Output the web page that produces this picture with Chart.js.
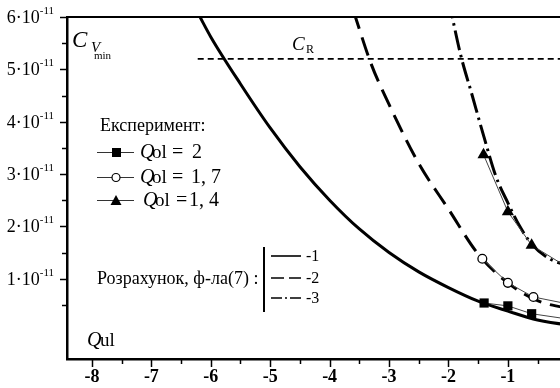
<!DOCTYPE html>
<html>
<head>
<meta charset="utf-8">
<script src="https://cdn.jsdelivr.net/npm/chart.js@4/dist/chart.umd.min.js"></script>
<style>
  html, body { margin: 0; padding: 0; background: #fff; }
  #wrap { width: 560px; height: 388px; overflow: hidden; position: relative; }
  canvas { display: block; }
</style>
</head>
<body>
<div id="wrap"><canvas id="chart" width="620" height="388"></canvas></div>
<script>
// Значення C в одиницях 1e-11, Q - по осі x
const xTicks = [-8, -7, -6, -5, -4, -3, -2, -1, 0];
const yTicks = [1, 2, 3, 4, 5, 6];

// Розрахунок, ф-ла (7)
const calc1Q = [-6.3, -6.2, -6, -5.5, -5, -4.5, -4, -3.5, -3, -2.5, -2, -1.5, -1, -0.5, 0, 0.5];
const calc1C = [6.25, 6.04, 5.62, 4.72, 3.88, 3.14, 2.5, 1.95, 1.5, 1.13, 0.83, 0.57, 0.38, 0.21, 0.12, 0.08];
const calc2Q = [-3.6, -3.3, -3, -2.5, -2, -1.5, -1, -0.5, 0, 0.5];
const calc2C = [6.12, 5.1, 4.33, 3.2, 2.33, 1.47, 0.92, 0.58, 0.44, 0.38];
const calc3Q = [-2.0, -1.8, -1.6, -1.4, -1.2, -1.0, -0.8, -0.6, -0.3, 0, 0.5];
const calc3C = [6.35, 5.3, 4.5, 3.7, 2.95, 2.45, 2.0, 1.66, 1.38, 1.26, 1.12];

// Експеримент
const exp2Q = [-1.4, -1.0, -0.6, 0];
const exp2C = [0.535, 0.48, 0.33, 0.23];
const exp17Q = [-1.43, -1.0, -0.57, 0];
const exp17C = [1.38, 0.92, 0.65, 0.52];
const exp14Q = [-1.41, -1.0, -0.6, 0];
const exp14C = [3.37, 2.28, 1.64, 1.22];

// C_R
const crQ = [-6.22, 0.5];
const crC = [5.2, 5.2];

const serif = '"Liberation Serif", "Times New Roman", serif';

function pts(xs, ys) {
    return xs.map((x, i) => ({ x: x, y: ys[i] }));
}

// Підписи, рамка, засічки
const decor = {
    id: 'decor',
    afterDraw(chart) {
        const ctx = chart.ctx;
        const a = chart.chartArea;
        const xs = chart.scales.x;
        const ys = chart.scales.y;
        ctx.save();
        ctx.fillStyle = '#000';
        ctx.strokeStyle = '#000';

        // верхня рамка
        ctx.lineWidth = 2;
        ctx.beginPath();
        ctx.moveTo(a.left - 1, a.top);
        ctx.lineTo(a.right, a.top);
        ctx.stroke();

        // засічки осі y
        ctx.lineWidth = 1.5;
        for (let v = 0.5; v <= 6; v += 0.5) {
            const y = Math.round(ys.getPixelForValue(v)) + 0.5;
            const len = Number.isInteger(v) ? 6 : 4;
            ctx.beginPath();
            ctx.moveTo(a.left - len - 1, y);
            ctx.lineTo(a.left, y);
            ctx.stroke();
        }
        // засічки осі x
        for (let v = -8; v <= 0.5; v += 0.5) {
            const x = Math.round(xs.getPixelForValue(v)) + 0.5;
            const len = Number.isInteger(v) ? 7 : 4;
            ctx.beginPath();
            ctx.moveTo(x, a.bottom);
            ctx.lineTo(x, a.bottom + len + 1);
            ctx.stroke();
        }

        // підписи осі y: n·10^-11
        ctx.textAlign = 'left';
        ctx.textBaseline = 'alphabetic';
        yTicks.forEach(v => {
            const y = ys.getPixelForValue(v);
            ctx.font = '11px ' + serif;
            const sup = '-11';
            const supW = ctx.measureText(sup).width;
            ctx.font = '18px ' + serif;
            const main = v + '·10';
            const mainW = ctx.measureText(main).width;
            const right = 54;
            ctx.fillText(main, right - supW - mainW, y + 6);
            ctx.font = '11px ' + serif;
            ctx.fillText(sup, right - supW, y - 3);
        });

        // C_Vmin
        ctx.font = 'italic 23px ' + serif;
        ctx.fillText('C', 72, 47);
        ctx.font = 'italic 15px ' + serif;
        ctx.fillText('V', 91, 52);
        ctx.font = '11px ' + serif;
        ctx.fillText('min', 94, 59);

        // C_R
        ctx.font = 'italic 19px ' + serif;
        ctx.fillText('C', 292, 50);
        ctx.font = '12px ' + serif;
        ctx.fillText('R', 306, 53);

        // Q_ul
        ctx.font = 'italic 20px ' + serif;
        ctx.fillText('Q', 87, 346);
        ctx.font = '19px ' + serif;
        ctx.fillText('ul', 100, 346);

        // Легенда експерименту
        ctx.font = '18px ' + serif;
        ctx.fillText('Експеримент:', 100, 131);

        const rows = [
            { y: 152, style: 'rect', q: 140, eq: 172, val: '2', vx: 192 },
            { y: 177, style: 'circle', q: 140, eq: 172, val: '1, 7', vx: 191 },
            { y: 200, style: 'triangle', q: 143, eq: 176, val: '1, 4', vx: 189 }
        ];
        rows.forEach(r => {
            ctx.lineWidth = 1;
            ctx.strokeStyle = '#333';
            ctx.beginPath();
            ctx.moveTo(97, r.y + 0.5);
            ctx.lineTo(134, r.y + 0.5);
            ctx.stroke();
            ctx.strokeStyle = '#000';
            ctx.fillStyle = '#000';
            if (r.style === 'rect') {
                ctx.fillRect(112, r.y - 4, 9, 9);
            } else if (r.style === 'circle') {
                ctx.beginPath();
                ctx.arc(116, r.y + 0.5, 4, 0, Math.PI * 2);
                ctx.fillStyle = '#fff';
                ctx.fill();
                ctx.lineWidth = 1.2;
                ctx.stroke();
                ctx.fillStyle = '#000';
            } else {
                ctx.beginPath();
                ctx.moveTo(116, r.y - 5);
                ctx.lineTo(121.5, r.y + 5);
                ctx.lineTo(110.5, r.y + 5);
                ctx.closePath();
                ctx.fill();
            }
            ctx.font = 'italic 20px ' + serif;
            ctx.fillText('Q', r.q, r.y + 6);
            ctx.font = '19px ' + serif;
            ctx.fillText('ol', r.q + 12, r.y + 6);
            ctx.font = '20px ' + serif;
            ctx.fillText('=', r.eq, r.y + 6);
            ctx.fillText(r.val, r.vx, r.y + 6);
        });

        // Легенда розрахунку
        ctx.font = '18px ' + serif;
        ctx.fillText('Розрахунок, ф-ла(7) :', 97, 284);
        ctx.lineWidth = 2;
        ctx.beginPath();
        ctx.moveTo(264, 247);
        ctx.lineTo(264, 312);
        ctx.stroke();
        const lines = [
            { y: 256, dash: [], label: '-1' },
            { y: 278, dash: [13, 5], label: '-2' },
            { y: 298, dash: [11, 3, 2, 3], label: '-3' }
        ];
        ctx.font = '16px ' + serif;
        lines.forEach(l => {
            ctx.lineWidth = 1.6;
            ctx.setLineDash(l.dash);
            ctx.beginPath();
            ctx.moveTo(271, l.y);
            ctx.lineTo(301, l.y);
            ctx.stroke();
            ctx.setLineDash([]);
            ctx.fillText(l.label, 306, l.y + 5);
        });

        ctx.restore();
    }
};

const thin = { borderColor: '#444', borderWidth: 1, showLine: true, tension: 0 };

new Chart(document.getElementById('chart'), {
    type: 'scatter',
    data: {
        datasets: [
            Object.assign({ label: 'Qol = 2', data: pts(exp2Q, exp2C), pointStyle: 'rect', pointRadius: 6.5,
                pointBackgroundColor: '#000', pointBorderColor: '#000', pointBorderWidth: 0 }, thin),
            Object.assign({ label: 'Qol = 1,7', data: pts(exp17Q, exp17C), pointStyle: 'circle', pointRadius: 4.4,
                pointBackgroundColor: '#fff', pointBorderColor: '#000', pointBorderWidth: 1.3 }, thin),
            Object.assign({ label: 'Qol = 1,4', data: pts(exp14Q, exp14C), pointStyle: 'triangle', pointRadius: 7,
                pointBackgroundColor: '#000', pointBorderColor: '#000', pointBorderWidth: 0 }, thin),
            { label: '-1', data: pts(calc1Q, calc1C), showLine: true, pointRadius: 0, borderColor: '#000',
              borderWidth: 3, cubicInterpolationMode: 'monotone' },
            { label: '-2', data: pts(calc2Q, calc2C), showLine: true, pointRadius: 0, borderColor: '#000',
              borderWidth: 3, borderDash: [19, 9], cubicInterpolationMode: 'monotone' },
            { label: '-3', data: pts(calc3Q, calc3C), showLine: true, pointRadius: 0, borderColor: '#000',
              borderWidth: 3, borderDash: [20, 5, 2.5, 5], cubicInterpolationMode: 'monotone' },
            { label: 'C_R', data: pts(crQ, crC), showLine: true, pointRadius: 0, borderColor: '#000',
              borderWidth: 1.6, borderDash: [6, 4] }
        ]
    },
    options: {
        responsive: false,
        animation: false,
        layout: { padding: { top: 17, right: 23, left: 0, bottom: 0 } },
        plugins: { legend: { display: false }, tooltip: { enabled: false } },
        scales: {
            x: {
                type: 'linear',
                min: -8.42,
                max: 0.5,
                afterFit: s => { s.height = 29; },
                grid: { display: false, drawTicks: false },
                border: { display: true, width: 2.5, color: '#000' },
                afterBuildTicks: s => { s.ticks = xTicks.map(v => ({ value: v })); },
                ticks: {
                    color: '#000',
                    padding: 8,
                    font: { family: serif, size: 18, weight: 'bold' },
                    callback: v => String(v)
                }
            },
            y: {
                type: 'linear',
                min: -0.535,
                max: 6,
                afterFit: s => { s.width = 67; },
                grid: { display: false, drawTicks: false },
                border: { display: true, width: 2.5, color: '#000' },
                ticks: { display: false }
            }
        }
    },
    plugins: [decor]
});
</script>
</body>
</html>
